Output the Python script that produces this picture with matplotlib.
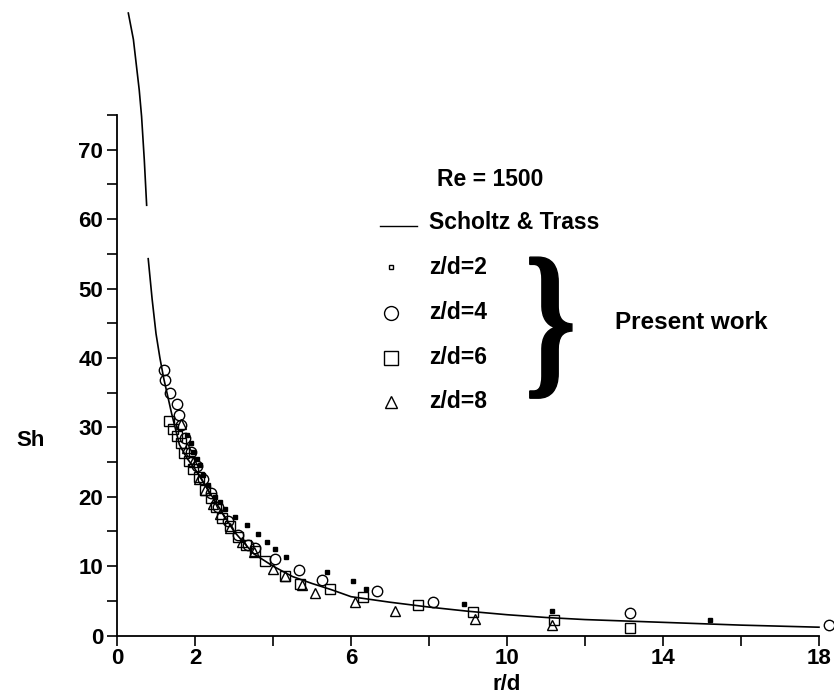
import matplotlib
matplotlib.use("Agg")
import matplotlib.pyplot as plt
from matplotlib.textpath import TextPath
from matplotlib.font_manager import FontProperties
from matplotlib.patches import PathPatch
from matplotlib.transforms import Affine2D

plt.rcParams['font.family'] = ['Liberation Sans', 'DejaVu Sans']
plt.rcParams['font.weight'] = 'bold'

# Scholtz & Trass correlation (two branches)
st_r1 = [0.29, 0.42, 0.57, 0.63, 0.70, 0.76]
st_sh1 = [89.7, 85.9, 78.6, 74.8, 68.5, 62.0]
st_r2 = [0.80, 0.90, 1.0, 1.1, 1.2, 1.4, 1.6, 1.8, 2.0, 2.5, 3.0, 3.5, 4.0, 4.5,
         5.0, 5.5, 6.0, 7.0, 8.0, 9.0, 10, 11, 12, 13, 14, 15, 16, 17, 18]
st_sh2 = [54.3, 48.5, 43.5, 40.0, 37.0, 32.0, 27.5, 25.5, 24.0, 19.5, 15.0, 11.8, 10.0, 8.5,
          7.5, 6.6, 5.6, 4.8, 4.1, 3.5, 3.0, 2.6, 2.3, 2.1, 1.9, 1.7, 1.5, 1.35, 1.2]

# present work
zd2_r = [1.79, 1.91, 1.96, 2.05, 2.13, 2.21, 2.34, 2.51, 2.65, 2.77, 3.03, 3.33, 3.62,
         3.84, 4.05, 4.33, 5.38, 6.06, 6.38, 8.9, 11.15, 15.2]
zd2_sh = [28.9, 27.7, 26.5, 25.5, 24.6, 23.1, 21.7, 20.0, 19.2, 18.3, 17.1, 15.9, 14.7,
          13.5, 12.4, 11.3, 9.1, 7.8, 6.7, 4.6, 3.5, 2.3]

zd4_r = [1.21, 1.23, 1.36, 1.55, 1.6, 1.63, 1.75, 1.9, 2.05, 2.2, 2.4, 2.6, 2.85, 3.1,
         3.35, 3.54, 4.05, 4.67, 5.25, 6.66, 8.09, 13.15, 18.26]
zd4_sh = [38.3, 36.8, 35.0, 33.4, 31.8, 30.3, 28.5, 26.5, 24.5, 22.5, 20.5, 18.5, 16.5, 14.5,
          13.0, 12.6, 11.1, 9.5, 8.0, 6.4, 4.8, 3.2, 1.5]

zd6_r = [1.34, 1.43, 1.53, 1.63, 1.72, 1.85, 1.95, 2.1, 2.25, 2.4, 2.55, 2.7, 2.9, 3.1,
         3.3, 3.55, 3.79, 4.3, 4.69, 5.46, 6.32, 7.73, 9.14, 11.2, 13.15]
zd6_sh = [30.9, 29.7, 28.7, 27.7, 26.3, 25.2, 24.0, 22.8, 21.0, 19.8, 18.5, 17.0, 15.8, 14.2,
          13.0, 12.2, 10.8, 8.6, 7.4, 6.7, 5.6, 4.4, 3.4, 2.2, 1.1]

zd8_r = [1.65, 1.8, 1.95, 2.1, 2.25, 2.45, 2.65, 2.9, 3.2, 3.5, 4.0, 4.3, 4.74, 5.08,
         6.1, 7.13, 9.18, 11.15]
zd8_sh = [30.5, 27.0, 25.0, 22.5, 21.0, 19.0, 17.5, 15.5, 13.5, 12.0, 9.6, 8.6, 7.3, 6.1,
          4.8, 3.6, 2.4, 1.5]

x_ticks = [0, 2, 4, 6, 8, 10, 12, 14, 16, 18]
x_labels = ['0', '2', '', '6', '', '10', '', '14', '', '18']
y_ticks = [0, 5, 10, 15, 20, 25, 30, 35, 40, 45, 50, 55, 60, 65, 70, 75]
y_labels = ['0', '', '10', '', '20', '', '30', '', '40', '', '50', '', '60', '', '70', '']

fig = plt.figure(figsize=(8.34, 6.99), dpi=100)
ax = fig.add_axes([0.1403, 0.0908, 0.8417, 0.7446])

ax.plot(st_r1, st_sh1, color='black', lw=1.2, clip_on=False)
ax.plot(st_r2, st_sh2, color='black', lw=1.2, clip_on=False)

ax.plot(zd2_r, zd2_sh, ls='none', marker='s', ms=2.6, color='black', clip_on=False)
ax.plot(zd4_r, zd4_sh, ls='none', marker='o', ms=7.5, mfc='none', mec='black', mew=1.0, clip_on=False)
ax.plot(zd6_r, zd6_sh, ls='none', marker='s', ms=7, mfc='none', mec='black', mew=1.0, clip_on=False)
ax.plot(zd8_r, zd8_sh, ls='none', marker='^', ms=7, mfc='none', mec='black', mew=1.0, clip_on=False)

ax.set_xlim(0, 18)
ax.set_ylim(0, 75)
ax.spines['top'].set_visible(False)
ax.spines['right'].set_visible(False)
for s in ('left', 'bottom'):
    ax.spines[s].set_linewidth(1.3)
ax.set_xticks(x_ticks)
ax.set_xticklabels(x_labels)
ax.set_yticks(y_ticks)
ax.set_yticklabels(y_labels)
ax.tick_params(direction='out', length=7, width=1.2, labelsize=16, pad=3)
ax.tick_params(axis='x', pad=2)

ax.set_xlabel('r/d', fontsize=16, fontweight='bold', va='center')
ax.xaxis.set_label_coords(10 / 18, -0.095)
ax.set_ylabel('Sh', fontsize=16, fontweight='bold', rotation=0, va='center', ha='center')
ax.yaxis.set_label_coords(-0.123, 0.375)

# legend drawn by hand
T = ax.transAxes
fs = 16.5
ax.text(0.456, 0.877, 'Re = 1500', transform=T, fontsize=fs, va='center', ha='left')
ax.plot([0.375, 0.427], [0.787, 0.787], transform=T, color='black', lw=1.0, clip_on=False)
ax.text(0.444, 0.793, 'Scholtz & Trass', transform=T, fontsize=fs, va='center', ha='left')
leg_y = [0.708, 0.620, 0.534, 0.449]
leg_txt = ['z/d=2', 'z/d=4', 'z/d=6', 'z/d=8']
leg_mk = [('s', 3.5), ('o', 10), ('s', 10), ('^', 9)]
for y, t, (m, s) in zip(leg_y, leg_txt, leg_mk):
    ax.plot([0.390], [y], transform=T, ls='none', marker=m, ms=s, mfc='none',
            mec='black', mew=1.0, clip_on=False)
    ax.text(0.444, y, t, transform=T, fontsize=fs, va='center', ha='left')

# curly brace
tp = TextPath((0, 0), '}', prop=FontProperties(family='Liberation Serif', weight='bold'), size=10)
ext = tp.get_extents()
x0, x1 = 0.588, 0.648
y0, y1 = 0.456, 0.727
tr = Affine2D().translate(-ext.x0, -ext.y0).scale((x1 - x0) / ext.width, (y1 - y0) / ext.height).translate(x0, y0)
ax.add_patch(PathPatch(tp, transform=tr + T, facecolor='black', edgecolor='black', lw=1.0, clip_on=False))
ax.text(0.709, 0.602, 'Present work', transform=T, fontsize=17.5, va='center', ha='left')

fig.savefig('out.png', dpi=100)
